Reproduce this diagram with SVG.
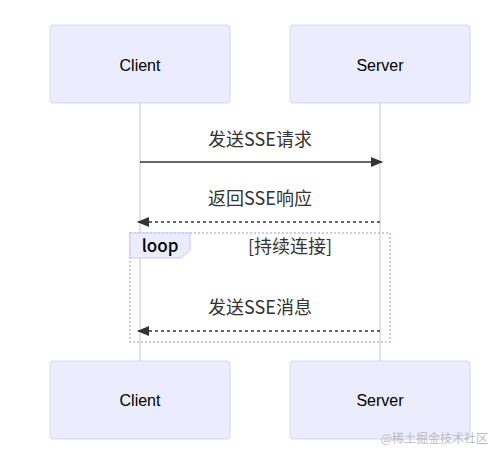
<svg xmlns="http://www.w3.org/2000/svg" width="495" height="455" viewBox="0 0 495 455">
<defs>
<style>
.actor{fill:#ECECFF;stroke:#d9d3f3;stroke-width:1}
.atext{font-family:"Liberation Sans",Arial,sans-serif;font-size:16px;fill:#000;text-anchor:middle;dominant-baseline:central}
.life{stroke:#d9d3f3;stroke-width:1.5}
.msg{stroke:#333;stroke-width:1.5;fill:none}
.dash{stroke-dasharray:3,3}
.mtext{font-family:"Noto Sans CJK SC","Liberation Sans",sans-serif;font-size:18px;fill:#333;text-anchor:middle}
.loop{fill:none;stroke:#ccc8e8;stroke-width:2;stroke-dasharray:2,2}
.ltext{font-family:"Noto Sans CJK SC","Liberation Sans",sans-serif;font-size:17px;fill:#000}
</style>
<marker id="arr" viewBox="0 0 12 10" refX="11" refY="5" markerWidth="12" markerHeight="10" markerUnits="userSpaceOnUse" orient="auto">
<path d="M0,0 L12,5 L0,10 z" fill="#333"/>
</marker>
</defs>
<rect width="495" height="455" fill="#fff"/>
<g id="lifelines">
<line class="life" x1="140" y1="103" x2="140" y2="361"/>
<line class="life" x1="380" y1="103" x2="380" y2="361"/>
</g>
<g id="loop">
<rect class="loop" x="130" y="233" width="260" height="109"/>
<path d="M130,233 L190,233 L190,250 L181,258 L130,258 Z" fill="#ECECFF" stroke="#ccc8e8"/>
<text class="ltext" x="160" y="252" text-anchor="middle" font-weight="500">loop</text>
<text class="mtext" x="290" y="253" fill="#000">[持续连接]</text>
</g>
<g id="client-top"><rect class="actor" x="50" y="25" width="180" height="78" rx="3"/><text class="atext" x="140" y="65">Client</text></g>
<g id="server-top"><rect class="actor" x="290" y="25" width="180" height="78" rx="3"/><text class="atext" x="380" y="65">Server</text></g>
<g id="client-bottom"><rect class="actor" x="50" y="361" width="180" height="78" rx="3"/><text class="atext" x="140" y="400">Client</text></g>
<g id="server-bottom"><rect class="actor" x="290" y="361" width="180" height="78" rx="3"/><text class="atext" x="380" y="400">Server</text></g>
<g id="connectors">
<line class="msg" x1="140" y1="162" x2="382" y2="162" marker-end="url(#arr)"/>
<text class="mtext" x="260" y="146">发送SSE请求</text>
<line class="msg dash" x1="380" y1="222" x2="138" y2="222" marker-end="url(#arr)"/>
<text class="mtext" x="260" y="205">返回SSE响应</text>
<line class="msg dash" x1="380" y1="331" x2="138" y2="331" marker-end="url(#arr)"/>
<text class="mtext" x="260" y="314">发送SSE消息</text>
</g>
<text x="488" y="443" text-anchor="end" font-family="'Noto Sans CJK SC',sans-serif" font-size="12" fill="#bbb">@稀土掘金技术社区</text>
</svg>
